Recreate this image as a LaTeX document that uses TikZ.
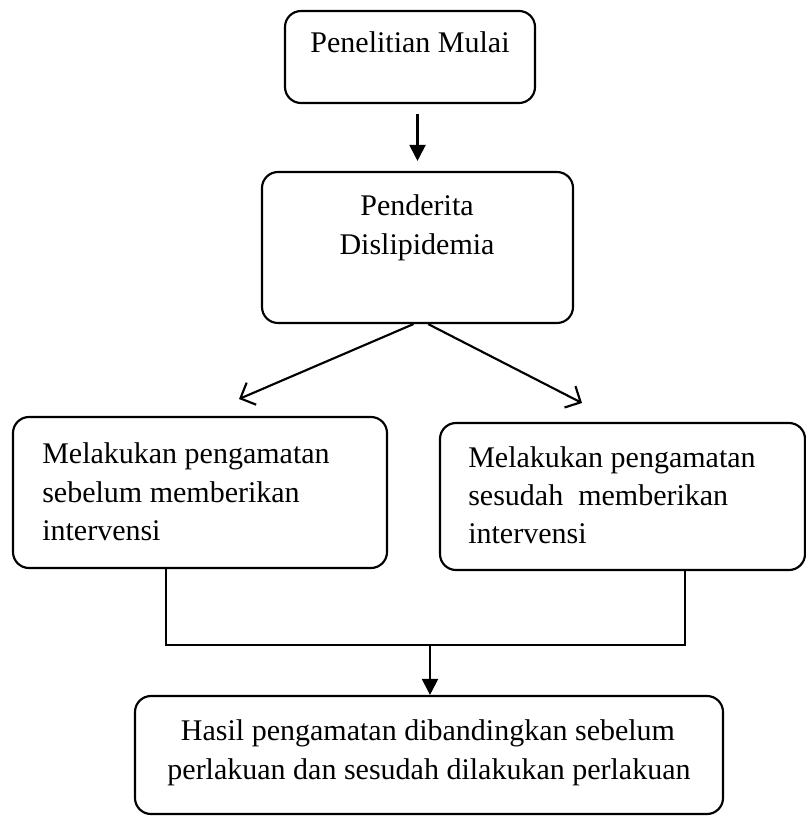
\documentclass[tikz,border=0pt]{standalone}
\usepackage{fontspec}
\setmainfont{Liberation Serif}
\usetikzlibrary{arrows.meta,fit}
\begin{document}
\begin{tikzpicture}[x=0.75pt,y=-0.75pt,
  box/.style={draw, line width=1.6pt, rounded corners=12pt, inner sep=0pt},
  lbl/.style={font=\fontsize{22.5}{28}\selectfont, inner sep=0pt, anchor=base},
  lbll/.style={lbl, anchor=base west},
  conn/.style={line width=1.6pt},
  fillarrow/.style={conn, -{Triangle[length=12pt,width=12pt]}},
  openarrow/.style={conn, -{Straight Barb[length=9pt,width=18pt]}}]
\useasboundingbox (0,0) rectangle (806,817);
% boxes
\node[box, fit={(285,11) (535,103)}] (b1) {};
\node[box, fit={(262,172) (573,323)}] (b2) {};
\node[box, fit={(13,417) (387,568)}] (b3) {};
\node[box, fit={(440,423) (805,570)}] (b4) {};
\node[box, fit={(135,696) (723,814)}] (b5) {};
% texts
\node[lbl] (t1) at (410,53) {Penelitian Mulai};
\node[lbl] (t2a) at (417,215) {Penderita};
\node[lbl] (t2b) at (417,254) {Dislipidemia};
\node[lbll] (t3a) at (42,463) {Melakukan pengamatan};
\node[lbll] (t3b) at (42,502) {sebelum memberikan};
\node[lbll] (t3c) at (42,540) {intervensi};
\node[lbll] (t4a) at (468,467) {Melakukan pengamatan};
\node[lbll] (t4b) at (468,505) {sesudah\ \ memberikan};
\node[lbll] (t4c) at (468,543) {intervensi};
\node[lbl] (t5a) at (428,740) {Hasil pengamatan dibandingkan sebelum};
\node[lbl] (t5b) at (429,779) {perlakuan dan sesudah dilakukan perlakuan};
% connectors
\draw[fillarrow, shorten <=7.5pt, shorten >=7.5pt] (b1.south -| b2.north) -- (b2.north);
\coordinate (eL) at (239,399);
\coordinate (eR) at (582,403);
\draw[openarrow] ([xshift=-3pt]b2.south) -- (eL);
\draw[openarrow] ([xshift=8pt]b2.south) -- (eR);
\coordinate (jL) at (166,645);
\coordinate (jR) at (685,645);
\coordinate (jM) at (430,645);
\draw[conn] (b3.south -| jL) -- (jL) -- (jR) -- (b4.south -| jR);
\draw[fillarrow] (jM) -- (b5.north -| jM);
\end{tikzpicture}
\end{document}
